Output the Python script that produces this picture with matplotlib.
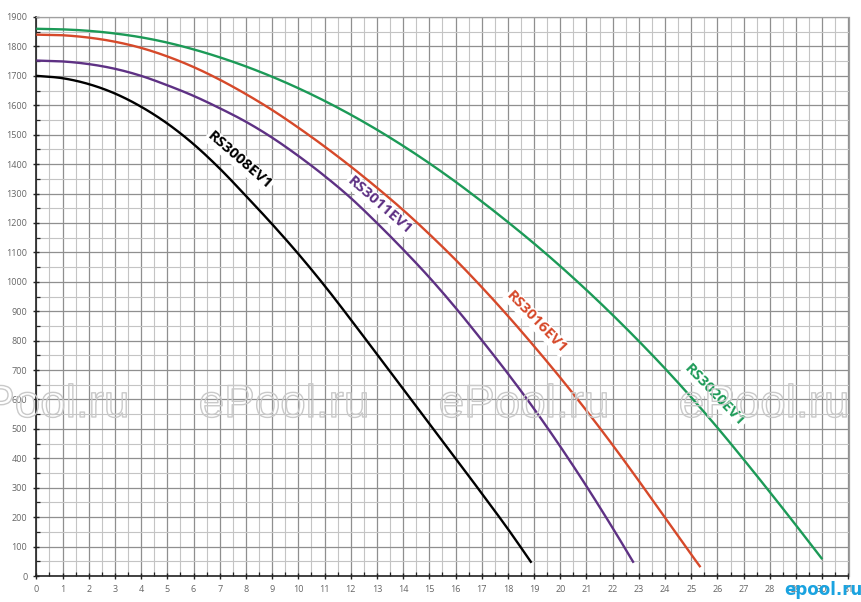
import numpy as np
import matplotlib
matplotlib.use("Agg")
import matplotlib.pyplot as plt
import matplotlib.patheffects as pe

# ---- data (flow vs head) ----
x_3008 = [0, 1, 2, 3, 4, 5, 6, 7, 8, 9, 10, 11, 12, 13, 14, 15, 16, 17, 18, 18.9]
y_3008 = [1700, 1692, 1672, 1640, 1595, 1538, 1468, 1385, 1292, 1196, 1095, 987, 872,
          754, 636, 518, 400, 281, 160, 45]

x_3011 = [0, 1, 2, 3, 4, 5, 6, 7, 8, 9, 10, 11, 12, 13, 14, 15, 16, 17, 18, 19, 20, 21, 22, 22.8]
y_3011 = [1752, 1749, 1740, 1724, 1700, 1668, 1632, 1590, 1544, 1490, 1428, 1360, 1285,
          1200, 1110, 1015, 912, 802, 688, 568, 440, 305, 163, 45]

x_3016 = [0, 1, 2, 3, 4, 5, 6, 7, 8, 9, 10, 11, 12, 13, 14, 15, 16, 17, 18, 19, 20, 21,
          22, 23, 24, 25, 25.35]
y_3016 = [1840, 1838, 1830, 1816, 1795, 1766, 1730, 1687, 1638, 1584, 1524, 1460, 1392,
          1320, 1244, 1162, 1075, 982, 884, 781, 674, 562, 445, 323, 198, 73, 30]

x_3020 = [0, 1, 2, 3, 4, 5, 6, 7, 8, 9, 10, 11, 12, 13, 14, 15, 16, 17, 18, 19, 20, 21,
          22, 23, 24, 25, 26, 27, 28, 29, 30]
y_3020 = [1860, 1858, 1853, 1844, 1831, 1813, 1790, 1763, 1732, 1697, 1658, 1615, 1568,
          1517, 1462, 1403, 1340, 1273, 1203, 1130, 1053, 972, 887, 798, 705, 607, 504,
          396, 285, 172, 57]

series_names = ["RS3008EV1", "RS3011EV1", "RS3016EV1", "RS3020EV1"]
series_x = [x_3008, x_3011, x_3016, x_3020]
series_y = [y_3008, y_3011, y_3016, y_3020]
series_colors = ["#000000", "#5e3184", "#d6492a", "#1c9a57"]

# label anchor (data coords) and rotation
label_pos = [(7.75, 1412), (13.1, 1260), (19.1, 862), (25.9, 615)]
label_rot = [-41, -41, -46, -46]

x_ticks = list(range(0, 32))
y_ticks = list(range(0, 2000, 100))
x_minor = [i + 0.5 for i in range(0, 31)]
y_minor = [i + 50 for i in range(0, 1900, 100)]


def smooth(xs, ys, n=12):
    """Catmull-Rom curve through the read points (for drawing only)."""
    p = np.column_stack([xs, ys]).astype(float)
    p = np.vstack([2 * p[0] - p[1], p, 2 * p[-1] - p[-2]])
    out = []
    t = np.linspace(0, 1, n, endpoint=False)[:, None]
    for i in range(1, len(p) - 2):
        p0, p1, p2, p3 = p[i - 1], p[i], p[i + 1], p[i + 2]
        seg = 0.5 * ((2 * p1) + (-p0 + p2) * t + (2 * p0 - 5 * p1 + 4 * p2 - p3) * t ** 2
                     + (-p0 + 3 * p1 - 3 * p2 + p3) * t ** 3)
        out.append(seg)
    out.append(p[-2][None, :])
    out = np.vstack(out)
    return out[:, 0], out[:, 1]


fig = plt.figure(figsize=(8.61, 6.02), dpi=100)
ax = fig.add_axes([36.3 / 861, 26 / 602, (848.5 - 36.3) / 861, (576 - 17) / 602])

ax.set_xlim(0, 31)
ax.set_ylim(0, 1900)
ax.set_xticks(x_ticks)
ax.set_yticks(y_ticks)
ax.set_xticks(x_minor, minor=True)
ax.set_yticks(y_minor, minor=True)

ax.grid(which="major", color="#8f8f8f", linewidth=0.9)
ax.grid(which="minor", color="#c4c4c4", linewidth=0.8)
ax.set_axisbelow(True)

for s in ["top", "right"]:
    ax.spines[s].set_color("#a0a0a0")
    ax.spines[s].set_linewidth(0.9)
for s in ["left", "bottom"]:
    ax.spines[s].set_color("#222222")
    ax.spines[s].set_linewidth(1.2)

ax.tick_params(which="major", direction="inout", length=5, width=1.0, color="#222222",
               labelsize=6.5, labelcolor="#666666", pad=4)
ax.tick_params(which="minor", direction="in", length=3, width=0.9, color="#222222")
for lbl in ax.get_xticklabels() + ax.get_yticklabels():
    lbl.set_family("Open Sans")

for xs, ys, c in zip(series_x, series_y, series_colors):
    sx, sy = smooth(xs, ys)
    ax.plot(sx, sy, color=c, linewidth=1.7, solid_capstyle="butt", zorder=3)

for name, (lx, ly), rot, c in zip(series_names, label_pos, label_rot, series_colors):
    ax.text(lx, ly, name, rotation=rot, rotation_mode="anchor", ha="center", va="center",
            fontsize=11, fontweight="bold", family="Open Sans", color=c, zorder=4,
            bbox=dict(boxstyle="square,pad=0.08", facecolor="white", edgecolor="none"))

# watermarks
for cx in [44, 284, 524, 764]:
    fig.text(cx / 861, (602 - 405) / 602, "ePool.ru", ha="center", va="center",
             fontsize=33, family="Liberation Sans", color="none", zorder=5,
             path_effects=[pe.withStroke(linewidth=1.0, foreground="#c9c9c9")])

fig.text(823 / 861, (602 - 590) / 602, "epool.ru", ha="center", va="center",
         fontsize=12, fontweight="bold", family="DejaVu Sans", color="#1aa3e0")

fig.savefig("out.png", dpi=100, facecolor="white")
